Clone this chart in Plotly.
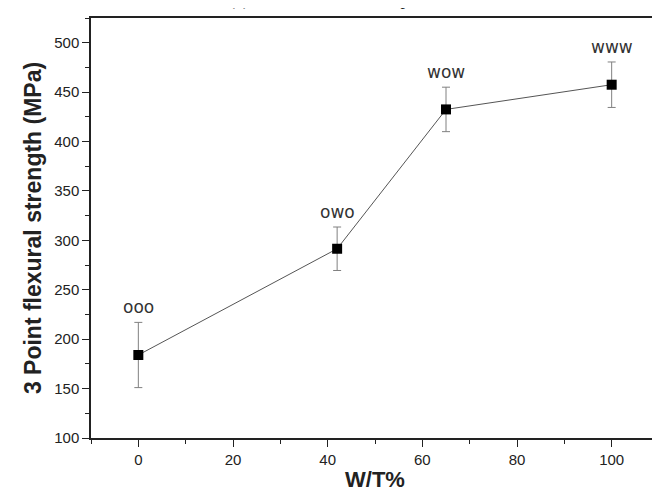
import plotly.graph_objects as go

wt = [0, 42, 65, 100]
strength = [184, 291.5, 432.5, 457.5]
err = [33, 22, 22.5, 23]
labels = ["ooo", "owo", "wow", "www"]

x_ticks = [0, 20, 40, 60, 80, 100]
y_ticks = [100, 150, 200, 250, 300, 350, 400, 450, 500]

fig = go.Figure()
fig.add_trace(go.Scatter(
    x=wt, y=strength, mode="lines+markers",
    line=dict(color="#555555", width=1),
    marker=dict(symbol="square", size=10, color="black"),
    error_y=dict(type="data", array=err, visible=True, color="#808080", thickness=1, width=4),
    showlegend=False,
))

for xv, yv, ev, lab in zip(wt, strength, err, labels):
    fig.add_annotation(x=xv, y=yv + ev, text=lab, showarrow=False, yanchor="bottom", yshift=3,
                       font=dict(family="DejaVu Sans", size=17, color="#333333"))

fig.add_annotation(xref="paper", yref="paper", x=0.24, y=1, yanchor="bottom", xanchor="left", yshift=6,
                   text="(c) Flexural test of the specimens", showarrow=False,
                   font=dict(family="Liberation Serif", size=18, color="#222222"))

axis_common = dict(showline=True, linecolor="#222222", linewidth=1.5, mirror=True, showgrid=False,
                   zeroline=False, ticks="outside", ticklen=7, tickwidth=1, tickcolor="#222222",
                   tickfont=dict(family="Liberation Sans", size=15, color="#222222"))

fig.update_xaxes(range=[-10, 110], tickvals=x_ticks, ticktext=[str(v) for v in x_ticks],
                 minor=dict(dtick=10, tick0=0, ticks="outside", ticklen=4, tickcolor="#222222"),
                 title=dict(text="<b>W/T%</b>", font=dict(family="Liberation Sans", size=22, color="#222222"),
                            standoff=5),
                 **axis_common)
fig.update_yaxes(range=[100, 525], tickvals=y_ticks, ticktext=[str(v) for v in y_ticks],
                 minor=dict(dtick=25, tick0=100, ticks="outside", ticklen=4, tickcolor="#222222"),
                 title=dict(text="<b>3 Point flexural strength (MPa)</b>",
                            font=dict(family="Liberation Sans", size=23, color="#222222"), standoff=6),
                 **axis_common)

fig.update_layout(width=660, height=493, margin=dict(l=83, r=7, t=10, b=63),
                  plot_bgcolor="white", paper_bgcolor="white")

fig.write_html("out.html")
